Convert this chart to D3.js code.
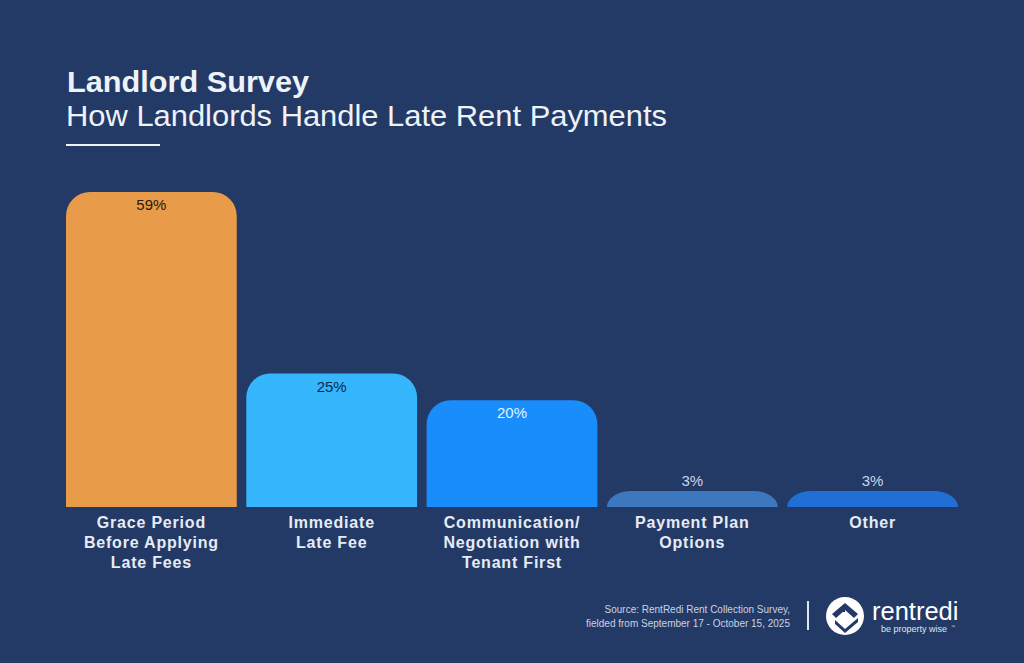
<!DOCTYPE html>
<html><head><meta charset="utf-8">
<script src="https://cdn.jsdelivr.net/npm/d3@7"></script>
<style>
html,body{margin:0;padding:0;background:#243a66;}
svg{display:block;font-family:"Liberation Sans",Arial,Helvetica,sans-serif;}
</style></head>
<body><svg id="c" width="1024" height="663"></svg>
<script>
const categories = [
  ["Grace Period","Before Applying","Late Fees"],
  ["Immediate","Late Fee"],
  ["Communication/","Negotiation with","Tenant First"],
  ["Payment Plan","Options"],
  ["Other"]
];
const values = [59, 25, 20, 3, 3];
const valueLabels = ["59%","25%","20%","3%","3%"];
const barColors = ["#e89b48","#35b6fd","#1a8dfc","#3b78bd","#1f6fd6"];
const labelColors = ["#2a1a0a","#0d2a4a","#e8f2ff","#c9d6ea","#c9d6ea"];

const svg = d3.select("#c");
const W = 1024, H = 663;
svg.append("rect").attr("width",W).attr("height",H).attr("fill","#243a66");

// Title
svg.append("text").attr("x",67).attr("y",92).attr("fill","#eef2f9")
  .attr("font-size",29).attr("font-weight","bold")
  .attr("textLength",242).attr("lengthAdjust","spacingAndGlyphs").text("Landlord Survey");
svg.append("text").attr("x",66).attr("y",126).attr("fill","#eef2f9")
  .attr("font-size",29.5).attr("textLength",601).attr("lengthAdjust","spacingAndGlyphs")
  .text("How Landlords Handle Late Rent Payments");
svg.append("rect").attr("x",66).attr("y",144).attr("width",94).attr("height",2).attr("fill","#eef2f9");

// Scales
const x = d3.scaleBand().domain(d3.range(values.length)).range([66,958]).paddingInner(0.053).paddingOuter(0);
const y = d3.scaleLinear().domain([0,59]).range([507,192]);

function barPath(x0,y0,w,h,r){
  const rx = Math.min(r, w/2), ry = Math.min(r, h);
  return `M${x0},${y0+h} L${x0},${y0+ry} A${rx},${ry} 0 0 1 ${x0+rx},${y0} L${x0+w-rx},${y0} A${rx},${ry} 0 0 1 ${x0+w},${y0+ry} L${x0+w},${y0+h} Z`;
}

const g = svg.append("g");
values.forEach((v,i)=>{
  const x0 = x(i), w = x.bandwidth(), y0 = y(v), h = y(0)-y(v);
  g.append("path").attr("d",barPath(x0,y0,w,h,24)).attr("fill",barColors[i]);
  const inside = h > 40;
  g.append("text").attr("x",x0+w/2).attr("y", inside ? y0+18 : y0-5)
    .attr("text-anchor","middle").attr("font-size",15)
    .attr("fill",labelColors[i]).text(valueLabels[i]);
  const t = g.append("text").attr("text-anchor","middle").attr("font-size",16)
    .attr("font-weight","bold").attr("fill","#e6ecf6").attr("letter-spacing",0.8);
  categories[i].forEach((line,j)=>{
    t.append("tspan").attr("x",x0+w/2).attr("y",528+j*20).text(line);
  });
});

// Source
const src = svg.append("text").attr("text-anchor","end").attr("font-size",10).attr("fill","#c8d2e4");
src.append("tspan").attr("x",790).attr("y",613).text("Source: RentRedi Rent Collection Survey,");
src.append("tspan").attr("x",790).attr("y",627).text("fielded from September 17 - October 15, 2025");
svg.append("rect").attr("x",807).attr("y",601).attr("width",2).attr("height",29).attr("fill","#dfe6f2");

// Logo
const lg = svg.append("g").attr("transform","translate(845,616)");
lg.append("circle").attr("r",19).attr("fill","#ffffff");
lg.append("path").attr("d","M-13,-2 L0,-13 L13,-2 L9,2 L0,-6 L-9,2 Z").attr("fill","#243a66");
lg.append("path").attr("d","M-10,4 L0,13 L13,2 L13,6 L0,17 L-10,8 Z").attr("fill","#243a66");
lg.append("rect").attr("x",-3).attr("y",-7).attr("width",3).attr("height",3).attr("fill","#243a66");
svg.append("text").attr("x",872).attr("y",620).attr("font-size",25.5).attr("fill","#ffffff").text("rentredi");
svg.append("text").attr("x",881).attr("y",632).attr("font-size",9).attr("fill","#dfe6f2").text("be property wise");
svg.append("text").attr("x",951).attr("y",628).attr("font-size",4).attr("fill","#dfe6f2").text("™");
</script></body></html>
